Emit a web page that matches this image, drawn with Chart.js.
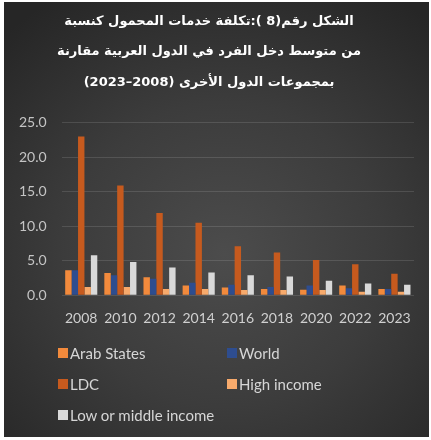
<!DOCTYPE html>
<html>
<head>
<meta charset="utf-8">
<script src="https://cdn.jsdelivr.net/npm/chart.js@4"></script>
<style>
  body { margin: 0; background: #fff; }
  #frame {
    position: absolute; left: 4px; top: 2px; width: 425px; height: 435px;
    background: radial-gradient(ellipse 75% 70% at 52% 58%, #4c4c4c 0%, #3c3c3c 50%, #262626 100%);
  }
  #chart { position: absolute; left: 0; top: 0; }
  #legend {
    position: absolute; left: 54px; top: 342px; width: 360px;
    display: grid; grid-template-columns: 169px 169px; row-gap: 13px;
    font: 15px Lato, sans-serif; color: #d6d6d6;
  }
  #legend span.item { display: flex; align-items: center; height: 18px; }
  #legend span.box { width: 10px; height: 10px; margin-right: 2px; display: inline-block; }
</style>
</head>
<body>
<div id="frame">
  <canvas id="chart" dir="rtl" width="425" height="435"></canvas>
  <div id="legend"></div>
</div>
<script>
// values
const years = ["2008", "2010", "2012", "2014", "2016", "2018", "2020", "2022", "2023"]
const arabStates = [3.6, 3.2, 2.6, 1.4, 1.1, 0.9, 0.8, 1.4, 0.9]
const world = [3.6, 2.9, 2.4, 1.8, 1.5, 1.2, 1.4, 1.0, 0.9]
const ldc = [23.0, 15.9, 11.9, 10.5, 7.1, 6.2, 5.1, 4.5, 3.1]
const highIncome = [1.2, 1.2, 0.9, 0.9, 0.75, 0.75, 0.75, 0.5, 0.5]
const lowMiddle = [5.8, 4.8, 4.0, 3.3, 2.9, 2.7, 2.1, 1.7, 1.5]
const titleLines = [
    "الشكل رقم(8 ):تكلفة خدمات المحمول كنسبة",
    "من متوسط دخل الفرد في الدول العربية مقارنة",
    "بمجموعات الدول الأخرى (2008–2023)"
]

const htmlLegend = {
    id: "htmlLegend",
    afterUpdate(chart){
        const box = document.getElementById("legend")
        box.innerHTML = ""
        chart.options.plugins.legend.labels.generateLabels(chart).forEach(item => {
            const el = document.createElement("span")
            el.className = "item"
            const sw = document.createElement("span")
            sw.className = "box"
            sw.style.background = item.fillStyle
            el.appendChild(sw)
            el.appendChild(document.createTextNode(item.text))
            box.appendChild(el)
        })
    }
}

const ctx = document.getElementById("chart").getContext("2d")
new Chart(ctx, {
    type: "bar",
    data: {
        labels: years,
        datasets: [
            { label: "Arab States", data: arabStates, backgroundColor: "#F28A3C" },
            { label: "World", data: world, backgroundColor: "#2E4D8F" },
            { label: "LDC", data: ldc, backgroundColor: "#C65A1E" },
            { label: "High income", data: highIncome, backgroundColor: "#F7AA6C" },
            { label: "Low or middle income", data: lowMiddle, backgroundColor: "#D9D9D9" },
        ]
    },
    options: {
        responsive: false,
        animation: false,
        layout: { padding: { left: 0, right: 15, top: 0, bottom: 103 } },
        datasets: { bar: { categoryPercentage: 0.82, barPercentage: 1.0 } },
        plugins: {
            legend: { display: false },
            tooltip: { enabled: false },
            title: {
                display: true,
                text: titleLines,
                color: "#ffffff",
                font: { family: "DejaVu Sans", size: 13, weight: "bold", lineHeight: 2.35 },
                padding: { top: 4, bottom: 25 }
            }
        },
        scales: {
            x: {
                grid: { display: false },
                border: { display: false },
                ticks: { color: "#d0d0d0", font: { family: "Lato", size: 14 }, padding: 7, maxRotation: 0 }
            },
            y: {
                min: 0, max: 25,
                grid: { color: "rgba(255,255,255,0.12)", drawTicks: false },
                border: { display: false },
                ticks: {
                    stepSize: 5, padding: 15, color: "#c4c4c4",
                    font: { family: "Lato", size: 14 },
                    callback: v => v.toFixed(1)
                }
            }
        }
    },
    plugins: [htmlLegend]
})
</script>
</body>
</html>
